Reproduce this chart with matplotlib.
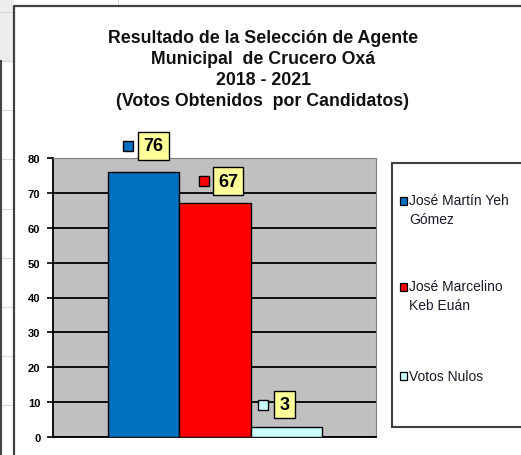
import matplotlib
matplotlib.use("Agg")
import matplotlib.pyplot as plt
from matplotlib.lines import Line2D
from matplotlib.patches import Rectangle
from matplotlib.transforms import offset_copy

plt.rcParams['font.family'] = ['Liberation Sans', 'DejaVu Sans']

# Data
candidates = ["José Martín Yeh\nGómez", "José Marcelino\nKeb Euán", "Votos Nulos"]
votes = [76, 67, 3]
colors = ["#0070C0", "#FF0000", "#CCFFFF"]
yticks = [0, 10, 20, 30, 40, 50, 60, 70, 80]
title = ("Resultado de la Selección de Agente\nMunicipal  de Crucero Oxá\n"
         "2018 - 2021\n(Votos Obtenidos  por Candidatos)")

W, H = 521, 456
fig = plt.figure(figsize=(W / 100, H / 100), dpi=100)
fig.patch.set_facecolor("white")

def fx(px):
    return px / W

def fy(py):
    return 1 - py / H

# spreadsheet bits peeking out on the left
fig.add_artist(Rectangle((0, fy(62)), fx(14), 1 - fy(62), transform=fig.transFigure,
                         facecolor="#EDEDED", edgecolor="none"))
for gy in [13, 62, 111, 160, 210, 259, 308, 357, 406]:
    fig.add_artist(Line2D([0, fx(14)], [fy(gy), fy(gy)], transform=fig.transFigure,
                          color="#D8D8D8", lw=0.8))
fig.add_artist(Line2D([fx(1), fx(1)], [fy(62), 0], transform=fig.transFigure,
                      color="#444444", lw=1.5))
fig.add_artist(Line2D([fx(118), fx(118)], [1, fy(7)], transform=fig.transFigure,
                      color="#D8D8D8", lw=0.8))

# chart frame
fig.add_artist(Line2D([fx(14), fx(14), 1], [0, fy(7), fy(7)], transform=fig.transFigure,
                      color="#404040", lw=1.6))

fig.text(fx(263), fy(70), title, ha="center", va="center", fontsize=12.8,
         fontweight="bold", linespacing=1.3, color="#111111")

ax = fig.add_axes([fx(53), fy(438), fx(376) - fx(53), fy(159) - fy(438)])
ax.set_facecolor("#C0C0C0")

xs = list(range(len(votes)))
ax.bar(xs, votes, width=1.0, color=colors, edgecolor="black", linewidth=1.0, zorder=3)
ax.set_xlim(-0.5 - 55 / 71, len(votes) - 0.5 + 54 / 71)
ax.set_ylim(0, 80)
ax.set_yticks(yticks)
ax.set_xticks([])
ax.yaxis.grid(True, color="black", lw=1.3, zorder=1)
ax.set_axisbelow(True)
ax.tick_params(axis="y", length=4, width=1.2, pad=5, labelsize=8, colors="black")
for lab in ax.get_yticklabels():
    lab.set_fontweight("bold")
ax.spines["left"].set_color("black")
ax.spines["left"].set_linewidth(1.3)
ax.spines["bottom"].set_color("black")
ax.spines["bottom"].set_linewidth(1.3)
ax.spines["top"].set_color("#808080")
ax.spines["right"].set_color("#808080")

# data labels: marker square + yellow box
marker_dx = [-16, -11.5, -23.5]
box_dx = [9.5, 13, -2]
label_dy = [26, 22, 22]
for i, v in enumerate(votes):
    tr = offset_copy(ax.transData, fig=fig, x=marker_dx[i], y=label_dy[i], units="dots")
    ax.plot([i], [v], marker="s", ms=7, mfc=colors[i], mec="black", mew=1.0,
            transform=tr, clip_on=False, zorder=5)
    ax.annotate(str(v), (i, v), xytext=(box_dx[i], label_dy[i]), textcoords="offset pixels",
                ha="center", va="center", fontsize=13, fontweight="bold",
                bbox=dict(boxstyle="square,pad=0.3", fc="#FFFF99", ec="black", lw=1.0),
                annotation_clip=False, zorder=6)

# legend box
fig.add_artist(Rectangle((fx(392), fy(428)), fx(600) - fx(392), fy(164) - fy(428),
                         transform=fig.transFigure, facecolor="white",
                         edgecolor="#404040", lw=1.5))
legend_y = [210.5, 296.5, 377]
for i, name in enumerate(candidates):
    yy = legend_y[i]
    nlines = name.count("\n") + 1
    top = yy - 8.5 * (nlines - 1)
    fig.add_artist(Rectangle((fx(400), fy(top + 4)), fx(6.5), fy(0) - fy(8),
                             transform=fig.transFigure, facecolor=colors[i],
                             edgecolor="black", lw=0.9))
    fig.text(fx(409), fy(yy), name, ha="left", va="center", fontsize=10,
             linespacing=1.45, color="#1a1a2a")

fig.savefig("out.png", dpi=100)
